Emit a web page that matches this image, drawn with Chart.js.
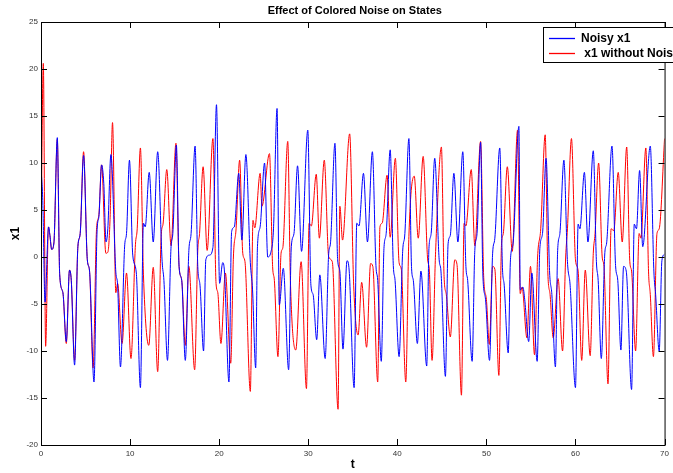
<!DOCTYPE html>
<html><head><meta charset="utf-8">
<script src="https://cdn.jsdelivr.net/npm/chart.js@4/dist/chart.umd.min.js"></script>
<style>html,body{margin:0;padding:0;background:#fff}#wrap{width:673px;height:473px}</style>
</head><body><div id="wrap"><canvas id="c" width="673" height="473"></canvas></div>
<script>
const xTicks = [0,10,20,30,40,50,60,70];
const yTicks = [-20,-15,-10,-5,0,5,10,15,20,25];
const seriesNames = ["Noisy x1", " x1 without Noise"];

const noisyT = [0,0.2,0.45,0.85,1.0,1.2,1.45,1.83,2.1,2.46,2.84,3.2,3.4,3.77,4.14,4.4,4.78,5.2,5.45,5.95,6.3,6.5,6.8,7.05,7.3,7.5,7.85,8.4,8.6,8.92,9.4,9.6,9.93,10.3,10.7,11.16,11.5,11.7,12.15,12.6,13.1,13.6,13.8,14.2,14.6,14.8,15.2,15.5,15.8,16.2,16.6,16.85,17.3,17.6,17.85,18.25,18.5,18.9,19.3,19.7,20.05,20.4,20.6,21.1,21.4,21.7,22.2,22.55,23.0,23.5,23.75,24.1,24.3,24.6,25.1,25.45,25.8,26.1,26.5,26.75,27.2,27.8,28.1,28.4,28.8,29.25,29.95,30.3,30.55,30.95,31.3,31.9,32.3,32.5,33.0,33.3,33.55,33.9,34.35,34.6,35.15,35.45,35.7,36.2,36.65,37.2,37.6,37.8,38.2,38.5,38.75,39.2,39.55,39.75,40.2,40.6,40.85,41.3,41.6,41.8,42.25,42.65,43.3,43.55,43.8,44.2,44.7,44.9,45.4,45.7,45.95,46.35,46.8,47.35,47.7,47.9,48.4,48.7,48.95,49.35,49.6,49.9,50.35,50.7,50.95,51.5,51.8,52.0,52.45,52.7,53.0,53.65,53.8,54.1,54.3,54.75,55.1,55.7,56.0,56.3,56.7,57.1,57.35,57.75,58.0,58.25,58.7,59.1,59.4,60.0,60.3,60.5,61.0,61.4,62.0,62.35,62.55,62.9,63.3,63.5,64.1,64.5,64.75,65.1,65.4,65.7,66.3,66.6,66.85,67.2,67.55,68.4,68.8,69.0,69.4,69.7,70];
const noisyX1 = [9.5,6,-4.8,3.2,2.3,0.8,1.5,12.7,-1.9,-3.8,-9.0,-1.4,-2.5,-11.5,1.1,2.5,10.8,-0.3,-1.5,-13.3,2.9,4.3,9.8,7.8,1.6,3.0,10.9,-1.6,-3,-11.7,1.3,2.5,10.3,0.2,-1.7,-13.9,3.6,3.2,9.0,1.6,11.2,-0.5,-2.5,-11.0,1.1,2.5,11.9,-1.0,-2.5,-11.0,0.7,2.5,11.8,-1.0,-3,-10.0,-0.3,0.2,1.0,16.2,-2.8,-0.6,-1.6,-13.3,2.7,3.2,8.9,1.8,10.9,-0.6,-3.5,-11.8,1.1,3.2,10.0,0,0.5,3,15.8,-5.1,-1.2,-12.0,1.1,2.5,9.7,0.6,13.5,-3.0,-4,-8.8,-1.9,-10.8,0.4,1.5,12.1,-0.3,-1.5,-9.8,-0.4,-1.5,-13.9,3.6,3.3,8.9,1.6,11.2,-0.9,-2.5,-11.1,0.9,2.5,11.4,-0.9,-2.5,-10.6,0.6,2.5,12.6,-1.2,-2.5,-9.2,-1.5,-11.6,0.9,2.5,10.5,-0.3,-1.5,-12.7,1.4,2.3,8.9,1.6,11.2,-1.0,-2.5,-11.1,0.7,2.5,12.2,-1.8,-4.5,-11.0,0.4,2,11.6,-1.1,-3,-10.2,-0.3,1.5,13.9,-3.5,-3.2,-4.5,-9.0,-1.7,-11.1,0.9,2.5,10.5,-1.7,-4,-11.7,0.7,2.5,10.3,-0.5,-3,-13.9,3.5,3.0,9.0,1.6,11.3,-0.5,-2.5,-10.8,0.5,1.5,11.8,-0.9,-2.5,-9.9,-1,-1.5,-14.1,3.5,3.0,9.2,1.1,11.8,-1.5,-4,-10.0,-0.4,0.3];

const cleanT = [0,0.26,0.52,0.84,1.0,1.2,1.45,1.83,2.1,2.46,2.84,3.2,3.4,3.77,4.14,4.4,4.78,5.2,5.45,5.85,6.23,6.5,6.8,7.28,7.5,7.75,8.03,8.4,8.6,9.1,9.6,10.1,10.6,10.8,11.16,11.5,12.1,12.6,13.1,13.5,13.7,14.12,14.6,15.15,15.5,15.8,16.2,16.6,17.25,17.6,17.8,18.2,18.65,19.3,19.65,19.85,20.2,20.7,21.3,21.6,21.9,22.3,22.65,22.9,23.5,23.8,24.0,24.6,24.8,25.65,26.0,26.2,26.6,26.95,27.15,27.7,28.0,28.6,29.2,29.8,30.1,30.35,30.9,31.25,31.8,32.3,32.7,33.35,33.55,33.85,34.65,35.1,35.6,36.0,36.55,37.0,37.25,37.8,38.05,38.3,38.85,39.2,39.78,40.2,40.45,40.95,41.3,41.9,42.35,42.9,43.4,43.6,43.9,44.3,44.95,45.25,45.5,45.95,46.45,46.7,47.2,47.5,47.7,48.3,48.7,49.35,49.7,50.0,50.33,50.7,50.95,51.4,51.7,51.9,52.35,52.9,53.5,53.8,54.0,54.55,54.95,55.4,55.75,56.1,56.6,56.9,57.15,57.5,58.05,58.55,58.9,59.1,59.55,60.0,60.3,60.7,61.1,61.65,62.0,62.2,62.6,63.0,63.2,63.65,64.0,64.3,64.8,65.25,65.75,66.1,66.3,66.75,67.15,67.35,67.9,68.2,68.4,68.75,69.15,69.4,70];
const cleanX1 = [0.9,20.6,-9.5,3.2,2.3,0.8,1.5,12.5,-1.9,-3.8,-9.2,-1.4,-2.5,-11.0,1.1,2.5,11.2,-0.3,-1.5,-11.8,2.9,4.5,9.8,0.4,0.5,4,14.3,-3.8,-2.8,-9.2,-1.7,-10.8,1.3,3,11.6,-1.9,-9.4,-1.1,-12.2,2.4,3.5,9.3,1.2,12.1,-1.0,-2.5,-9.4,-1.0,-12.0,0.7,2.5,9.6,0.7,12.6,-2.8,-3.8,-9.2,-1.7,-11.3,0,3,10.3,0.4,-0.5,-14.3,3.9,3.1,8.9,5.4,11.0,-1.0,-2.5,-10.6,0.4,1.0,12.3,-2.6,-9.9,-0.5,-14.0,3.6,3.3,8.8,2.0,10.3,0,-0.5,-16.2,5.4,1.8,13.1,-3.0,-8.3,-2.7,-9.6,-0.7,-1.0,-13.3,3.2,3.6,8.7,2.1,10.5,-0.6,-1.3,-13.3,2.2,8.6,2.0,10.7,-0.2,-1.5,-11.0,0.6,11.7,-2.1,-4,-8.5,-0.3,-0.8,-14.7,3.6,3.3,9.3,1.2,12.3,-2.2,-4.5,-9.3,-1.0,-1.3,-12.6,1.4,2.5,9.6,0.6,13.5,-3.9,-3.2,-8.6,-1.0,-10.4,0,3,13.0,-1.7,-4,-8.6,-2.3,-10.0,0,3,12.6,-0.3,-1.5,-11.0,-1.4,-10.5,0.4,2.5,10.0,0,-1,-13.5,3.0,2.8,9.0,1.6,11.7,-0.5,-1.5,-10.0,2.5,2.0,11.6,-1.5,-4,-10.6,2.5,3.0,12.6];

const toPts = (ts, vs) => ts.map((t, i) => ({x: t, y: vs[i]}));

const frame = {
  id: 'frame',
  afterDraw(chart) {
    const {ctx, chartArea: a, scales: {x, y}} = chart;
    ctx.save();
    ctx.strokeStyle = '#000';
    ctx.lineWidth = 1;
    ctx.strokeRect(a.left + 0.5, a.top + 0.5, a.right - a.left, a.bottom - a.top);
    ctx.beginPath();
    xTicks.forEach(v => {
      const px = Math.round(x.getPixelForValue(v)) + 0.5;
      ctx.moveTo(px, a.bottom); ctx.lineTo(px, a.bottom - 6);
      ctx.moveTo(px, a.top); ctx.lineTo(px, a.top + 6);
    });
    yTicks.forEach(v => {
      const py = Math.round(y.getPixelForValue(v)) + 0.5;
      ctx.moveTo(a.left, py); ctx.lineTo(a.left + 6, py);
      ctx.moveTo(a.right, py); ctx.lineTo(a.right - 6, py);
    });
    ctx.stroke();
    // title and axis labels
    ctx.fillStyle = '#000';
    ctx.font = 'bold 11px "Liberation Sans", Arial, sans-serif';
    ctx.textAlign = 'center'; ctx.textBaseline = 'middle';
    ctx.fillText('Effect of Colored Noise on States', (a.left + a.right) / 2 + 2, 11);
    ctx.font = 'bold 12px "Liberation Sans", Arial, sans-serif';
    ctx.fillText('t', (a.left + a.right) / 2, 465);
    ctx.save();
    ctx.translate(16, (a.top + a.bottom) / 2);
    ctx.rotate(-Math.PI / 2);
    ctx.fillText('x1', 0, 0);
    ctx.restore();
    // legend
    const lx = 543, ly = 27, lw = 140, lh = 35;
    ctx.fillStyle = '#fff';
    ctx.fillRect(lx, ly, lw, lh);
    ctx.strokeStyle = '#000';
    ctx.lineWidth = 1;
    ctx.strokeRect(lx + 0.5, ly + 0.5, lw, lh);
    ctx.font = 'bold 12px "Liberation Sans", Arial, sans-serif';
    ctx.textAlign = 'left';
    chart.data.datasets.forEach((ds, i) => {
      const yy = ly + 11 + i * 15;
      ctx.strokeStyle = ds.borderColor;
      ctx.lineWidth = 1.3;
      ctx.beginPath(); ctx.moveTo(lx + 6, yy + 0.5); ctx.lineTo(lx + 32, yy + 0.5); ctx.stroke();
      ctx.fillStyle = '#000';
      ctx.fillText(ds.label, lx + 38, yy + 1);
    });
    ctx.restore();
  }
};

new Chart(document.getElementById('c'), {
  type: 'line',
  data: {
    datasets: [
      {label: seriesNames[0], data: toPts(noisyT, noisyX1), borderColor: '#0000ff', borderWidth: 1, pointRadius: 0, cubicInterpolationMode: 'monotone', fill: false},
      {label: seriesNames[1], data: toPts(cleanT, cleanX1), borderColor: '#ff0000', borderWidth: 1, pointRadius: 0, cubicInterpolationMode: 'monotone', fill: false}
    ]
  },
  options: {
    responsive: false,
    animation: false,
    events: [],
    layout: {padding: {left: 0, right: 6, top: 22, bottom: 0}},
    plugins: {legend: {display: false}, tooltip: {enabled: false}, title: {display: false}},
    scales: {
      x: {type: 'linear', min: 0, max: 70,
          afterBuildTicks: s => { s.ticks = xTicks.map(v => ({value: v})); },
          afterFit: s => { s.height = 28; },
          grid: {display: false, drawTicks: false}, border: {display: false},
          ticks: {padding: 4, color: '#333', font: {size: 8, family: '"Liberation Sans", Arial, sans-serif'}, maxRotation: 0}},
      y: {min: -20, max: 25,
          afterBuildTicks: s => { s.ticks = yTicks.map(v => ({value: v})); },
          afterFit: s => { s.width = 41; },
          grid: {display: false, drawTicks: false}, border: {display: false},
          ticks: {padding: 3, color: '#333', font: {size: 8, family: '"Liberation Sans", Arial, sans-serif'}}}
    }
  },
  plugins: [frame]
});
</script></body></html>
